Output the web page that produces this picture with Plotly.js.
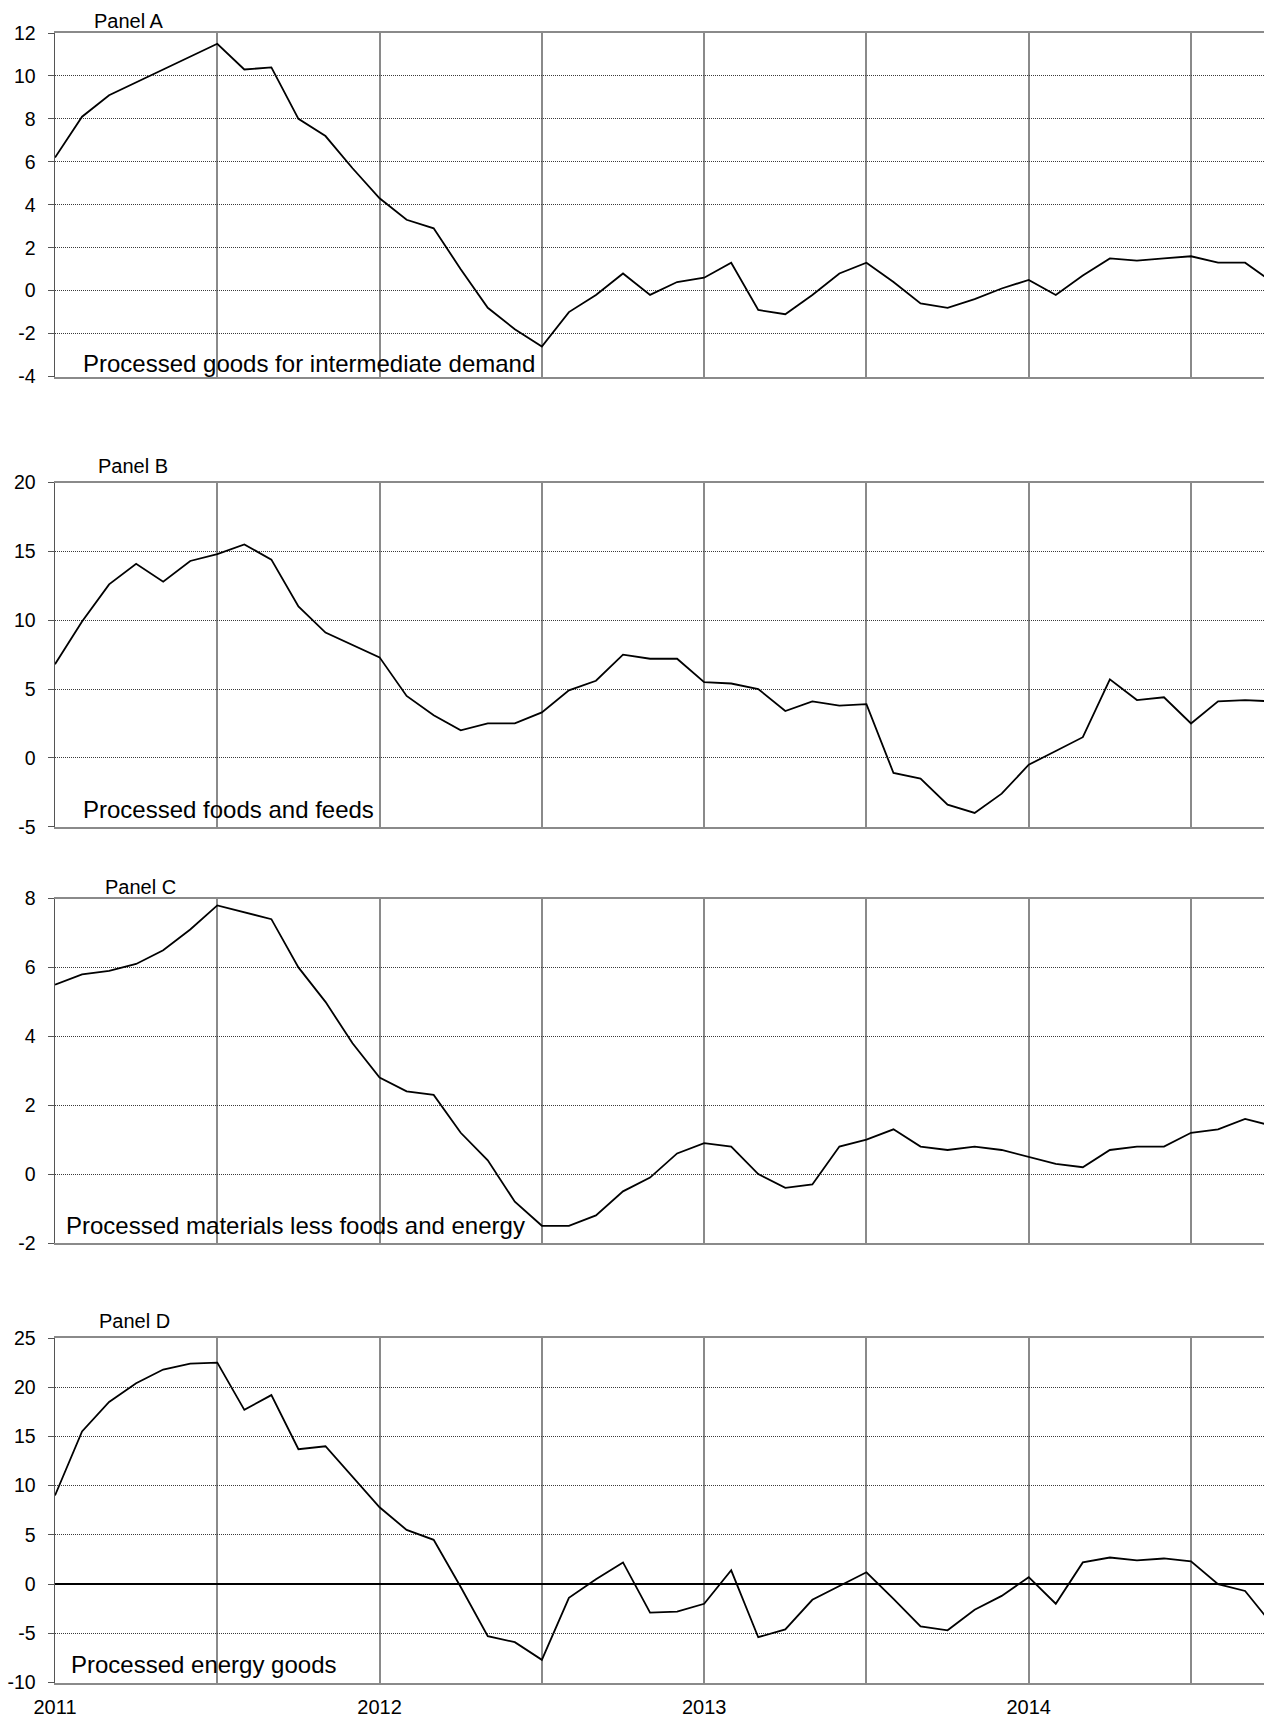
<!DOCTYPE html>
<html>
<head>
<meta charset="utf-8">
<script src="https://cdn.plot.ly/plotly-3.0.1.min.js"></script>
<style>
  html, body { margin: 0; padding: 0; background: #ffffff; }
  #chart { width: 1264px; height: 1720px; }
</style>
</head>
<body>
<div id="chart"></div>
<script>
// Month labels: Jan 2011 onward (one value per month)
const months = [
  "2011-01","2011-02","2011-03","2011-04","2011-05","2011-06","2011-07","2011-08","2011-09","2011-10","2011-11","2011-12",
  "2012-01","2012-02","2012-03","2012-04","2012-05","2012-06","2012-07","2012-08","2012-09","2012-10","2012-11","2012-12",
  "2013-01","2013-02","2013-03","2013-04","2013-05","2013-06","2013-07","2013-08","2013-09","2013-10","2013-11","2013-12",
  "2014-01","2014-02","2014-03","2014-04","2014-05","2014-06","2014-07","2014-08","2014-09","2014-10"
];

// Panel A: Processed goods for intermediate demand
const panelA = [6.2, 8.1, 9.1, 9.7, 10.3, 10.9, 11.5, 10.3, 10.4, 8.0, 7.2, 5.7,
                4.3, 3.3, 2.9, 1.0, -0.8, -1.8, -2.6, -1.0, -0.2, 0.8, -0.2, 0.4,
                0.6, 1.3, -0.9, -1.1, -0.2, 0.8, 1.3, 0.4, -0.6, -0.8, -0.4, 0.1,
                0.5, -0.2, 0.7, 1.5, 1.4, 1.5, 1.6, 1.3, 1.3, 0.4];
// Panel B: Processed foods and feeds
const panelB = [6.8, 9.9, 12.6, 14.1, 12.8, 14.3, 14.8, 15.5, 14.4, 11.0, 9.1, 8.2,
                7.3, 4.5, 3.1, 2.0, 2.5, 2.5, 3.3, 4.9, 5.6, 7.5, 7.2, 7.2,
                5.5, 5.4, 5.0, 3.4, 4.1, 3.8, 3.9, -1.1, -1.5, -3.4, -4.0, -2.6,
                -0.5, 0.5, 1.5, 5.7, 4.2, 4.4, 2.5, 4.1, 4.2, 4.1];
// Panel C: Processed materials less foods and energy
const panelC = [5.5, 5.8, 5.9, 6.1, 6.5, 7.1, 7.8, 7.6, 7.4, 6.0, 5.0, 3.8,
                2.8, 2.4, 2.3, 1.2, 0.4, -0.8, -1.5, -1.5, -1.2, -0.5, -0.1, 0.6,
                0.9, 0.8, 0.0, -0.4, -0.3, 0.8, 1.0, 1.3, 0.8, 0.7, 0.8, 0.7,
                0.5, 0.3, 0.2, 0.7, 0.8, 0.8, 1.2, 1.3, 1.6, 1.4];
// Panel D: Processed energy goods
const panelD = [9.0, 15.5, 18.5, 20.4, 21.8, 22.4, 22.5, 17.7, 19.2, 13.7, 14.0, 10.9,
                7.8, 5.5, 4.5, -0.3, -5.3, -5.9, -7.7, -1.4, 0.5, 2.2, -2.9, -2.8,
                -2.0, 1.4, -5.4, -4.6, -1.6, -0.2, 1.2, -1.5, -4.3, -4.7, -2.6, -1.2,
                0.7, -2.0, 2.2, 2.7, 2.4, 2.6, 2.3, 0.0, -0.7, -4.1];

const panelTitles = ["Panel A", "Panel B", "Panel C", "Panel D"];
const seriesNames = ["Processed goods for intermediate demand", "Processed foods and feeds",
                     "Processed materials less foods and energy", "Processed energy goods"];

// Y tick values per panel
const yTicksA = [-4, -2, 0, 2, 4, 6, 8, 10, 12];
const yTicksB = [-5, 0, 5, 10, 15, 20];
const yTicksC = [-2, 0, 2, 4, 6, 8];
const yTicksD = [-10, -5, 0, 5, 10, 15, 20, 25];

// X ticks: gridline every 6 months, year label each January
const xTickVals = [0, 6, 12, 18, 24, 30, 36, 42];
const xTickText = ["2011", "", "2012", "", "2013", "", "2014", ""];

const xIdx = months.map((m, i) => i);

// ---------- layout geometry (pixels) ----------
const W = 1264, H = 1720, L = 55;
const panels = [
  { top: 33,   bottom: 376.5, ticks: yTicksA, data: panelA, zero: false,
    lab: { x: 92, y: 21 },  inner: { x: 81, y: 363 } },
  { top: 482.5, bottom: 826.7, ticks: yTicksB, data: panelB, zero: false,
    lab: { x: 96, y: 466 }, inner: { x: 81, y: 810 } },
  { top: 898.5, bottom: 1243, ticks: yTicksC, data: panelC, zero: false,
    lab: { x: 103, y: 887 }, inner: { x: 64, y: 1225 } },
  { top: 1338, bottom: 1682.5, ticks: yTicksD, data: panelD, zero: true,
    lab: { x: 97, y: 1321 }, inner: { x: 69, y: 1664.5 } }
];
const px2py = y => 1 - y / H;
const px2px = x => (x - L) / (W - L);
const xMax = (W - L) / 27.048;

const FONT = '"Liberation Sans", Arial, sans-serif';
const traces = [];
const layout = {
  width: W, height: H,
  margin: { l: L, r: 0, t: 0, b: 0, pad: 0 },
  paper_bgcolor: "#ffffff",
  plot_bgcolor: "#ffffff",
  showlegend: false,
  font: { family: FONT, color: "#000000", size: 19 },
  annotations: []
};

panels.forEach((p, k) => {
  const n = k === 0 ? "" : String(k + 1);
  traces.push({
    type: "scatter", mode: "lines",
    x: xIdx, y: p.data,
    xaxis: "x" + n, yaxis: "y" + n,
    name: seriesNames[k],
    line: { color: "#000000", width: 1.8 },
    hoverinfo: "x+y"
  });
  const lo = p.ticks[0], hi = p.ticks[p.ticks.length - 1];
  layout["xaxis" + n] = {
    domain: [0, 1],
    anchor: "y" + n,
    range: [0, xMax],
    tickmode: "array",
    tickvals: xTickVals,
    ticktext: k === 3 ? xTickText : xTickVals.map(() => ""),
    showticklabels: k === 3,
    ticks: "",
    ticklabelstandoff: 5,
    tickfont: { family: FONT, size: 20, color: "#000000" },
    showgrid: true, gridcolor: "#8a8a8a", gridwidth: 2,
    showline: true, linecolor: "#8a8a8a", linewidth: 2, mirror: true,
    zeroline: false, automargin: false, fixedrange: true
  };
  layout["yaxis" + n] = {
    domain: [px2py(p.bottom), px2py(p.top)],
    anchor: "x" + n,
    range: [lo, hi],
    tickmode: "array",
    tickvals: p.ticks,
    ticktext: p.ticks.map(v => String(v)),
    ticks: "outside", ticklen: 6, tickwidth: 1, tickcolor: "#555555",
    ticklabelstandoff: 8,
    tickfont: { family: FONT, size: 19.5, color: "#000000" },
    showgrid: true, gridcolor: "#3a3a3a", gridwidth: 1, griddash: "1px,1px",
    showline: true, linecolor: "#555555", linewidth: 1.5, mirror: false,
    zeroline: p.zero, zerolinecolor: "#000000", zerolinewidth: 1.2,
    automargin: false, fixedrange: true
  };
  layout.annotations.push({
    xref: "paper", yref: "paper",
    x: px2px(p.lab.x), y: px2py(p.lab.y),
    xanchor: "left", yanchor: "middle",
    text: panelTitles[k], showarrow: false,
    font: { family: FONT, size: 20, color: "#000000" }
  });
  layout.annotations.push({
    xref: "paper", yref: "paper",
    x: px2px(p.inner.x), y: px2py(p.inner.y),
    xanchor: "left", yanchor: "middle",
    text: seriesNames[k], showarrow: false,
    font: { family: FONT, size: 24, color: "#000000" }
  });
});

Plotly.newPlot("chart", traces, layout, { displayModeBar: false, staticPlot: true });
</script>
</body>
</html>
